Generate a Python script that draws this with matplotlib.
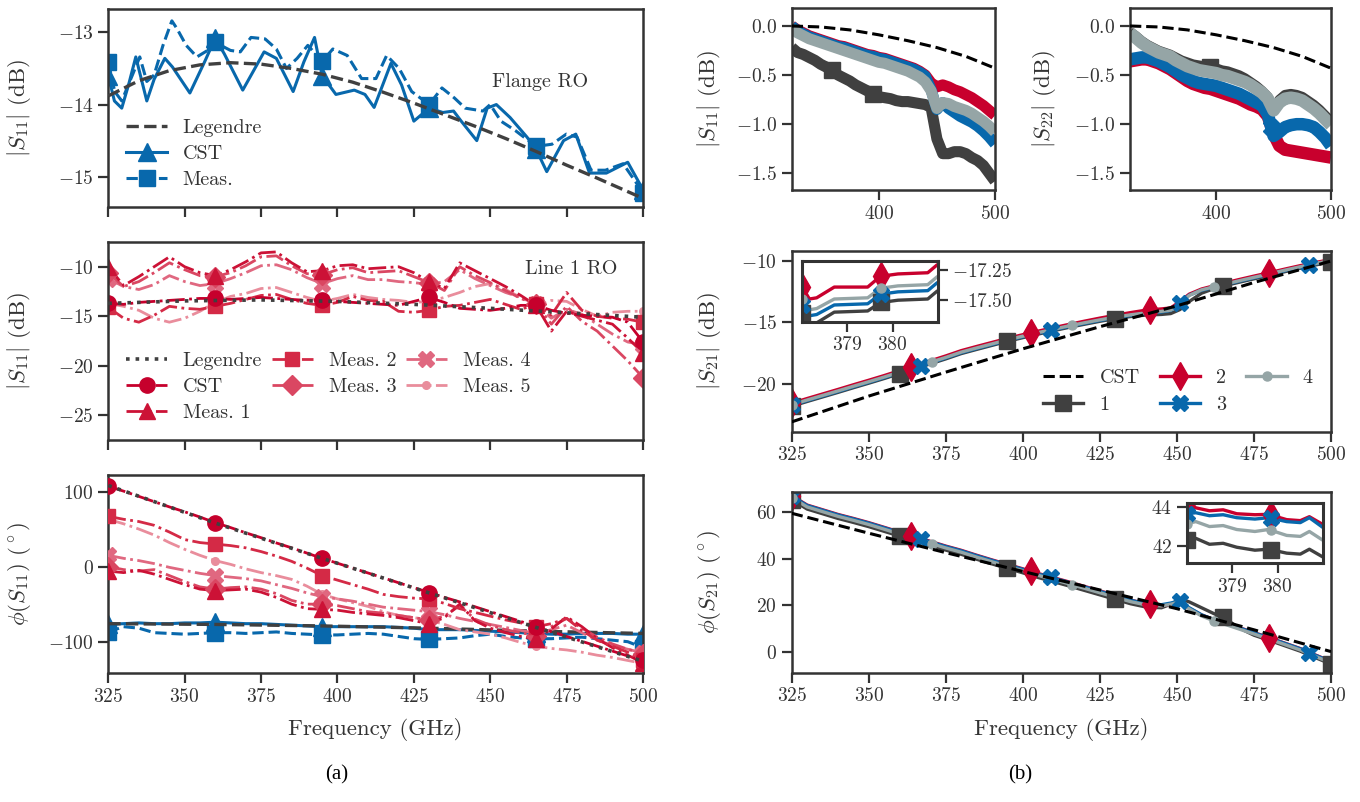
import numpy as np
import matplotlib
matplotlib.use("Agg")
import matplotlib.pyplot as plt
from matplotlib.lines import Line2D

# ---------------- data ----------------
# (a) top: flange read-out, |S11| in dB
flange_cst_f = [325.0, 327.0, 329.4, 331.8, 334.0, 337.6, 340.0, 343.5, 346.0, 351.7, 356.5, 360.0,
                363.0, 369.0, 376.0, 380.0, 385.5, 389.0, 392.5, 395.0, 399.5, 405.5, 409.0, 412.0,
                417.5, 421.0, 425.0, 430.0, 434.5, 438.0, 440.5, 445.6, 449.0, 452.0, 456.5, 462.0,
                465.0, 468.5, 474.0, 478.0, 482.5, 488.0, 495.0, 500.0]
flange_cst_db = [-13.60, -13.95, -14.05, -13.70, -13.34, -13.95, -13.65, -13.36, -13.48, -13.84, -13.41, -13.08,
                 -13.30, -13.80, -13.27, -13.36, -13.82, -13.41, -13.07, -13.60, -13.86, -13.80, -13.86, -14.04,
                 -13.43, -13.73, -14.23, -14.05, -14.11, -14.09, -14.23, -14.50, -14.05, -14.00, -14.18, -14.45,
                 -14.62, -14.93, -14.50, -14.41, -14.95, -14.95, -14.80, -15.18]
flange_meas_f = [325.0, 327.1, 329.4, 332.9, 335.3, 337.6, 340.0, 342.9, 345.8, 347.5, 350.5, 354.0,
                 357.5, 360.0, 365.0, 368.2, 371.7, 376.3, 380.0, 383.3, 386.8, 390.3, 395.0, 398.5,
                 403.2, 407.9, 412.6, 416.1, 420.2, 424.3, 430.0, 434.2, 438.3, 441.8, 447.6, 450.0,
                 453.5, 458.2, 465.0, 470.2, 474.9, 478.4, 483.0, 487.7, 493.5, 500.0]
flange_meas_db = [-13.41, -13.82, -13.95, -13.59, -13.34, -13.68, -13.59, -13.18, -12.84, -12.95, -13.18, -13.34,
                  -13.25, -13.14, -13.25, -13.27, -13.07, -13.09, -13.23, -13.50, -13.36, -13.18, -13.40, -13.23,
                  -13.32, -13.64, -13.64, -13.32, -13.50, -13.82, -14.00, -13.77, -13.91, -14.05, -14.09, -14.00,
                  -14.23, -14.36, -14.58, -14.55, -14.41, -14.45, -14.91, -14.91, -14.82, -15.22]
flange_leg_f = [325, 335, 345, 355, 365, 375, 385, 395, 405, 415, 425, 435, 445, 455, 465, 475, 485, 500]
flange_leg_db = [-13.88, -13.67, -13.53, -13.45, -13.42, -13.44, -13.50, -13.58, -13.69, -13.83,
                 -13.98, -14.14, -14.30, -14.47, -14.65, -14.84, -15.02, -15.30]

# (a) middle: line 1 read-out, |S11| in dB on a 5 GHz grid
freq5 = np.arange(325, 501, 5)
line_leg_f = [325, 350, 375, 400, 425, 450, 475, 500]
line_leg_db = [-13.7, -13.45, -13.35, -13.5, -13.8, -14.2, -14.65, -15.1]
line_cst_db = [-13.7, -13.8, -13.6, -13.5, -13.4, -13.3, -13.2, -13.2, -13.3, -13.2,
               -13.1, -13.2, -13.3, -13.4, -13.4, -13.5, -13.6, -13.7, -13.8, -13.9,
               -13.5, -13.1, -13.6, -14.2, -14.3, -14.4, -14.2, -13.9, -13.9, -14.4,
               -14.7, -14.9, -15.0, -15.1, -15.6, -17.6]
line_m1_db = [-10.0, -11.9, -11.0, -10.0, -9.0, -10.0, -10.6, -10.9, -10.3, -9.5,
              -8.6, -8.5, -9.6, -10.5, -10.4, -9.9, -9.8, -10.2, -10.1, -10.0,
              -10.6, -11.5, -12.2, -9.6, -10.4, -11.2, -12.0, -12.9, -13.9, -16.5,
              -14.5, -15.0, -15.4, -15.8, -17.2, -18.7]
line_m2_db = [-14.1, -15.2, -15.6, -14.9, -14.0, -14.2, -14.3, -14.0, -13.7, -13.3,
              -12.9, -12.8, -13.3, -13.7, -13.9, -13.6, -13.0, -13.4, -13.5, -14.5,
              -14.6, -14.4, -14.0, -13.9, -13.6, -13.3, -13.8, -14.3, -13.8, -14.9,
              -12.6, -14.4, -15.0, -15.2, -15.3, -15.6]
line_m3_db = [-10.6, -12.0, -11.5, -10.6, -9.6, -10.3, -10.9, -11.0, -10.6, -9.9,
              -9.0, -8.9, -9.9, -10.7, -10.8, -10.3, -10.1, -10.6, -10.5, -10.4,
              -11.0, -11.6, -12.4, -10.0, -10.9, -11.6, -12.4, -13.2, -13.8, -15.8,
              -14.0, -15.5, -16.5, -18.0, -19.5, -21.2]
line_m4_db = [-11.2, -12.0, -12.3, -11.8, -10.9, -11.5, -11.9, -11.7, -11.2, -10.6,
              -9.9, -9.8, -10.3, -11.1, -11.7, -11.2, -10.9, -11.3, -11.3, -11.5,
              -11.6, -11.8, -11.5, -10.3, -11.2, -11.9, -12.6, -13.1, -13.8, -15.2,
              -14.3, -14.8, -15.8, -16.8, -17.6, -17.9]
line_m5_db = [-13.7, -14.0, -14.4, -15.2, -15.6, -15.2, -14.5, -13.6, -13.0, -12.7,
              -12.2, -12.1, -12.6, -13.1, -13.5, -13.2, -12.8, -13.1, -13.3, -13.4,
              -13.6, -13.5, -13.1, -12.6, -12.0, -11.7, -12.3, -13.1, -13.9, -13.4,
              -13.5, -14.3, -15.0, -14.6, -14.5, -14.5]

# (a) bottom: phase of S11 in degrees, 5 GHz grid
line_leg_ph_f = [325, 360, 395, 430, 465, 500]
line_leg_ph = [108, 58, 11, -35, -81, -126]
line_cst_ph = [107, 100.5, 93.5, 86.5, 79.5, 73, 66, 58.5, 52, 45,
               38.5, 31.5, 25, 18, 11, 4.5, -2, -8.5, -15, -21.5,
               -28, -34.5, -41, -47, -53.5, -60, -66.5, -73, -80, -86.5,
               -93, -99.5, -106, -112.5, -119, -125]
line_m1_ph = [-6, -8, -5, -10, -17, -24, -30, -32, -31, -30,
              -34, -41, -50, -56, -57, -58, -61, -63, -65, -68,
              -72, -76, -68, -50, -72, -82, -88, -93, -97, -83,
              -67, -80, -96, -108, -118, -128]
line_m2_ph = [67, 63, 60, 55, 46, 36, 32, 30, 28, 25,
              20, 14, 7, -2, -12, -18, -24, -30, -37, -40,
              -42, -43, -49, -56, -61, -66, -71, -75, -80, -76,
              -69, -85, -98, -106, -114, -124]
line_m3_ph = [0, -4, -6, -4, -12, -20, -27, -30, -28, -27,
              -30, -36, -45, -50, -50, -52, -56, -60, -62, -65,
              -68, -71, -66, -52, -70, -78, -84, -88, -92, -80,
              -69, -82, -94, -103, -110, -116]
line_m4_ph = [15, 11, 8, 4, -1, -5, -9, -12, -14, -16,
              -19, -24, -29, -35, -40, -43, -46, -50, -54, -56,
              -58, -60, -64, -69, -73, -77, -81, -85, -89, -84,
              -78, -88, -98, -105, -110, -115]
line_m5_ph = [63, 57, 50, 42, 32, 23, 15, 8, 3, -3,
              -8, -12, -17, -26, -37, -43, -48, -53, -60, -65,
              -68, -71, -77, -84, -87, -90, -95, -101, -106, -109,
              -111, -114, -118, -121, -125, -129]
flange_leg_ph = [-76, -77, -79, -82, -86, -89]
flange_cst_ph = [-77, -76, -75, -76, -76, -75, -75, -74, -75, -76,
                 -76, -77, -78, -79, -80, -80, -80, -80, -80, -81,
                 -82, -84, -84, -84, -85, -86, -87, -88, -89, -90,
                 -90, -89, -89, -89, -90, -90]
flange_meas_ph = [-87, -80, -82, -88, -89, -90, -89, -88, -88, -89,
                  -88, -87, -89, -90, -91, -91, -90, -89, -90, -93,
                  -96, -97, -96, -95, -92, -90, -93, -95, -96, -96,
                  -95, -94, -96, -98, -100, -108]

# (b) top: |S11| and |S22| of the four lines, 5 GHz grid
freq25 = [325, 350, 375, 400, 425, 450, 475, 500]
cst_sii_db = [0.0, -0.01, -0.04, -0.09, -0.15, -0.22, -0.31, -0.43]
s11_l1 = [-0.22, -0.27, -0.29, -0.32, -0.35, -0.39, -0.42, -0.45, -0.50, -0.53,
          -0.56, -0.60, -0.63, -0.66, -0.69, -0.72, -0.73, -0.74, -0.76, -0.77,
          -0.77, -0.78, -0.79, -0.80, -0.83, -1.15, -1.30, -1.30, -1.28, -1.28,
          -1.30, -1.34, -1.37, -1.42, -1.50, -1.58]
s11_l2 = [0.0, -0.04, -0.07, -0.10, -0.12, -0.14, -0.16, -0.18, -0.20, -0.21,
          -0.23, -0.25, -0.27, -0.29, -0.30, -0.32, -0.33, -0.35, -0.37, -0.39,
          -0.41, -0.43, -0.46, -0.50, -0.58, -0.62, -0.60, -0.62, -0.65, -0.67,
          -0.70, -0.73, -0.77, -0.81, -0.86, -0.91]
s11_l3 = [0.0, -0.05, -0.08, -0.11, -0.13, -0.15, -0.17, -0.19, -0.21, -0.22,
          -0.24, -0.26, -0.28, -0.30, -0.31, -0.33, -0.34, -0.36, -0.38, -0.40,
          -0.42, -0.44, -0.47, -0.51, -0.65, -0.85, -0.78, -0.84, -0.88, -0.92,
          -0.95, -0.98, -1.02, -1.07, -1.13, -1.20]
s11_l4 = [-0.03, -0.07, -0.10, -0.13, -0.15, -0.17, -0.19, -0.21, -0.23, -0.25,
          -0.27, -0.29, -0.31, -0.33, -0.35, -0.37, -0.38, -0.40, -0.42, -0.44,
          -0.46, -0.49, -0.52, -0.57, -0.66, -0.84, -0.78, -0.79, -0.82, -0.84,
          -0.86, -0.89, -0.93, -0.97, -1.02, -1.08]
s22_l1 = [-0.06, -0.10, -0.15, -0.19, -0.22, -0.25, -0.27, -0.29, -0.32, -0.35,
          -0.37, -0.39, -0.40, -0.41, -0.42, -0.43, -0.45, -0.46, -0.48, -0.50,
          -0.53, -0.57, -0.61, -0.66, -0.72, -0.84, -0.75, -0.70, -0.69, -0.70,
          -0.72, -0.76, -0.80, -0.85, -0.91, -0.97]
s22_l2 = [-0.36, -0.35, -0.34, -0.34, -0.36, -0.38, -0.41, -0.44, -0.48, -0.52,
          -0.56, -0.59, -0.61, -0.63, -0.64, -0.66, -0.68, -0.70, -0.72, -0.74,
          -0.77, -0.80, -0.82, -0.85, -0.92, -1.10, -1.22, -1.26, -1.27, -1.28,
          -1.29, -1.30, -1.31, -1.32, -1.33, -1.34]
s22_l3 = [-0.34, -0.33, -0.32, -0.32, -0.34, -0.36, -0.39, -0.42, -0.46, -0.50,
          -0.53, -0.56, -0.58, -0.59, -0.60, -0.61, -0.63, -0.65, -0.67, -0.69,
          -0.72, -0.75, -0.78, -0.81, -0.90, -1.12, -1.08, -1.03, -1.01, -1.00,
          -1.00, -1.01, -1.03, -1.08, -1.14, -1.22]
s22_l4 = [-0.07, -0.12, -0.17, -0.21, -0.24, -0.27, -0.29, -0.31, -0.35, -0.38,
          -0.41, -0.43, -0.45, -0.46, -0.47, -0.48, -0.50, -0.51, -0.53, -0.55,
          -0.57, -0.60, -0.64, -0.68, -0.74, -0.86, -0.78, -0.74, -0.73, -0.74,
          -0.76, -0.80, -0.84, -0.89, -0.95, -1.01]

# (b) middle/bottom: |S21| (dB) and phase of S21 (deg)
freq21 = [325, 330, 335, 340, 345, 350, 355, 360, 365, 370, 375, 380, 385, 390, 395,
          400, 405, 410, 415, 420, 425, 430, 435, 440, 445, 448, 451, 454, 458, 462,
          465, 470, 475, 480, 485, 490, 495, 500]
cst_s21_db = [-23.1, -21.0, -19.05, -17.15, -15.35, -13.65, -11.75, -10.0]
s21_l1 = [-21.82, -21.44, -21.07, -20.70, -20.32, -19.95, -19.57, -19.17, -18.77, -18.37,
          -17.97, -17.54, -17.20, -16.87, -16.54, -16.24, -15.95, -15.67, -15.40, -15.15,
          -14.91, -14.69, -14.52, -14.40, -14.35, -14.28, -13.95, -13.30, -12.62, -12.25,
          -12.04, -11.74, -11.45, -11.17, -10.87, -10.59, -10.32, -10.07]
s21_l2 = [-21.58, -21.20, -20.83, -20.46, -20.08, -19.71, -19.33, -18.93, -18.53, -18.13,
          -17.73, -17.30, -16.96, -16.63, -16.30, -16.00, -15.71, -15.43, -15.16, -14.90,
          -14.65, -14.42, -14.20, -14.00, -13.90, -13.82, -13.30, -12.70, -12.28, -12.02,
          -11.82, -11.52, -11.23, -10.95, -10.66, -10.38, -10.12, -9.88]
s21_l3 = [-21.75, -21.37, -21.00, -20.63, -20.25, -19.88, -19.50, -19.10, -18.70, -18.30,
          -17.90, -17.47, -17.13, -16.80, -16.47, -16.17, -15.88, -15.60, -15.33, -15.08,
          -14.84, -14.62, -14.43, -14.27, -14.15, -14.03, -13.42, -12.78, -12.38, -12.14,
          -11.96, -11.66, -11.37, -11.09, -10.79, -10.51, -10.24, -9.99]
s21_l4 = [-21.70, -21.32, -20.95, -20.58, -20.20, -19.83, -19.45, -19.05, -18.65, -18.25,
          -17.85, -17.42, -17.08, -16.75, -16.42, -16.12, -15.83, -15.55, -15.28, -15.03,
          -14.79, -14.57, -14.38, -14.22, -14.10, -14.00, -13.45, -12.80, -12.35, -12.10,
          -11.92, -11.62, -11.33, -11.05, -10.75, -10.47, -10.20, -9.95]
cst_s21_ph = [59.3, 50.8, 42.5, 34.5, 26.6, 18.6, 9.6, 0.3]
ph21_l1 = [65.1, 61.1, 59.1, 57.1, 55.4, 53.6, 51.6, 49.6, 47.6, 45.6,
           43.6, 41.8, 39.7, 37.7, 35.8, 33.9, 31.9, 30.1, 28.3, 26.4,
           24.5, 22.6, 20.7, 19.3, 19.0, 20.5, 22.8, 21.5, 19.0, 16.5,
           15.0, 10.5, 7.3, 5.1, 2.8, 0.5, -2.3, -5.0]
ph21_l2 = [66.8, 62.8, 60.8, 58.8, 57.1, 55.3, 53.3, 51.3, 49.3, 47.3,
           45.3, 43.5, 41.4, 39.4, 37.5, 35.6, 33.6, 31.8, 30.0, 28.1,
           26.2, 24.3, 22.3, 20.6, 19.9, 20.6, 21.6, 18.8, 15.9, 13.9,
           12.8, 10.6, 8.4, 6.2, 3.9, 1.6, -1.2, -3.9]
ph21_l3 = [66.6, 62.6, 60.6, 58.6, 56.9, 55.1, 53.1, 51.1, 49.1, 47.1,
           45.1, 43.3, 41.2, 39.2, 37.3, 35.4, 33.4, 31.6, 29.8, 27.9,
           26.0, 24.1, 22.2, 20.7, 20.3, 21.0, 22.0, 19.0, 16.0, 13.9,
           12.7, 10.5, 8.3, 6.1, 3.8, 1.5, -1.3, -4.0]
ph21_l4 = [66.0, 62.0, 60.0, 58.0, 56.3, 54.5, 52.5, 50.5, 48.5, 46.5,
           44.5, 42.7, 40.6, 38.6, 36.7, 34.8, 32.8, 31.0, 29.2, 27.3,
           25.4, 23.5, 21.6, 20.2, 19.8, 20.5, 21.5, 18.5, 15.5, 13.4,
           12.2, 10.0, 7.8, 5.6, 3.3, 1.0, -1.8, -4.5]

# zoomed details around 379-380 GHz
zoom_f = [378.0, 378.16, 378.32, 378.71, 379.45, 379.73, 380.12, 380.78, 381.0]
zoom_s21_l1 = [-17.61, -17.70, -17.69, -17.60, -17.59, -17.52, -17.50, -17.49, -17.42]
zoom_s21_l2 = [-17.39, -17.49, -17.48, -17.39, -17.39, -17.30, -17.28, -17.27, -17.20]
zoom_s21_l3 = [-17.54, -17.63, -17.62, -17.54, -17.53, -17.45, -17.43, -17.42, -17.35]
zoom_s21_l4 = [-17.49, -17.58, -17.57, -17.49, -17.48, -17.40, -17.38, -17.37, -17.30]
zoom_ph_f = [378.0, 378.2, 378.5, 378.8, 379.1, 379.5, 379.8, 380.2, 380.5, 380.7, 381.0]
zoom_ph_l1 = [42.30, 42.40, 42.10, 42.15, 41.95, 41.80, 41.85, 41.65, 41.60, 41.85, 41.45]
zoom_ph_l2 = [44.05, 43.95, 43.80, 43.85, 43.65, 43.60, 43.62, 43.35, 43.30, 43.50, 43.10]
zoom_ph_l3 = [43.65, 43.70, 43.55, 43.60, 43.45, 43.38, 43.45, 43.25, 43.20, 43.45, 42.95]
zoom_ph_l4 = [43.15, 43.25, 43.00, 43.05, 42.85, 42.75, 42.85, 42.55, 42.50, 42.75, 42.30]

# ---------------- style ----------------
INK = "#333333"
plt.rcParams.update({
    "font.family": "cmr10",
    "mathtext.fontset": "cm",
    "axes.formatter.use_mathtext": True,
    "axes.unicode_minus": True,
    "axes.edgecolor": INK,
    "axes.linewidth": 1.8,
    "xtick.color": INK, "ytick.color": INK,
    "xtick.major.size": 7, "ytick.major.size": 7,
    "xtick.major.width": 1.6, "ytick.major.width": 1.6,
    "xtick.labelsize": 14, "ytick.labelsize": 14,
    "axes.labelsize": 16.5, "axes.labelcolor": INK,
    "text.color": INK,
    "legend.fontsize": 14.5, "legend.frameon": False,
})

BLUE = "#0868ac"
DARK = "#404040"
GREY = "#95a5a6"
RED = "#c8002d"
REDS = ["#c6002c", "#cc1236", "#d42a46", "#da4762", "#e06880", "#e98d9c"]

FIG_W, FIG_H = 1360, 802
fig = plt.figure(figsize=(13.6, 8.02), dpi=100)


def box(x0, y0, x1, y1):
    """Axes rectangle from pixel corners (top-left origin)."""
    return [x0 / FIG_W, 1 - y1 / FIG_H, (x1 - x0) / FIG_W, (y1 - y0) / FIG_H]


def trace(ax, f, v, color, ls="-", lw=2.2, marker=None, ms=10, marks=None, z=2):
    ax.plot(f, v, color=color, ls=ls, lw=lw, zorder=z,
            solid_capstyle="butt", dash_capstyle="butt")
    if marker is not None and marks is not None:
        mf = np.asarray(marks, dtype=float)
        ax.plot(mf, np.interp(mf, f, v), ls="none", marker=marker, ms=ms,
                color=color, mec=color, zorder=z + 0.1)


def proxy(color, ls="-", lw=2.2, marker=None, ms=10):
    return Line2D([], [], color=color, ls=ls, lw=lw, marker=marker, ms=ms)


every35 = [325, 360, 395, 430, 465, 500]
freq_ticks = [325, 350, 375, 400, 425, 450, 475, 500]

# ---------------- (a) top ----------------
axA = fig.add_axes(box(108.3, 9.3, 643, 207))
trace(axA, flange_cst_f, flange_cst_db, BLUE, "-", 2.2, "^", 13, every35)
trace(axA, flange_meas_f, flange_meas_db, BLUE, "--", 2.2, "s", 11, every35)
trace(axA, flange_leg_f, flange_leg_db, DARK, "--", 2.4, z=3)
axA.set_ylim(-15.42, -12.68)
axA.set_yticks([-15, -14, -13])
axA.text(0.718, 0.632, "Flange RO", transform=axA.transAxes, fontsize=14.5, va="center")
axA.legend([proxy(DARK, "--", 2.4), proxy(BLUE, "-", 2.2, "^", 13), proxy(BLUE, "--", 2.2, "s", 11)],
           ["Legendre", "CST", "Meas."], loc="lower left", labelspacing=0.4)
axA.set_ylabel(r"$|S_{11}|$ (dB)")

# ---------------- (a) middle ----------------
axB = fig.add_axes(box(108.3, 241.7, 643, 440))
line_series = [
    (line_m5_db, REDS[5], ".", 11),
    (line_m4_db, REDS[4], "X", 11),
    (line_m3_db, REDS[3], "D", 10),
    (line_m2_db, REDS[2], "s", 10),
    (line_m1_db, REDS[1], "^", 11),
    (line_cst_db, REDS[0], "o", 11),
]
for vals, col, mk, ms in line_series:
    trace(axB, freq5, vals, col, "-.", 2.0, mk, ms, every35)
trace(axB, line_leg_f, line_leg_db, DARK, ":", 2.6, z=4)
axB.set_ylim(-27.5, -7.47)
axB.set_yticks([-25, -20, -15, -10])
axB.text(0.78, 0.862, "Line 1 RO", transform=axB.transAxes, fontsize=14.5, va="center")
axB.legend([proxy(DARK, ":", 2.6), proxy(REDS[0], "-.", 2.0, "o", 11), proxy(REDS[1], "-.", 2.0, "^", 11),
            proxy(REDS[2], "-.", 2.0, "s", 10), proxy(REDS[3], "-.", 2.0, "D", 10),
            proxy(REDS[4], "-.", 2.0, "X", 11), proxy(REDS[5], "-.", 2.0, ".", 11)],
           ["Legendre", "CST", "Meas. 1", "Meas. 2", "Meas. 3", "Meas. 4", "Meas. 5"],
           loc="lower left", ncol=3, columnspacing=0.5, labelspacing=0.4)
axB.set_ylabel(r"$|S_{11}|$ (dB)")

# ---------------- (a) bottom ----------------
axC = fig.add_axes(box(108.3, 475, 643, 673))
trace(axC, freq5, flange_cst_ph, BLUE, "-", 2.2, "^", 13, every35)
trace(axC, freq5, flange_meas_ph, BLUE, "--", 2.2, "s", 11, every35)
trace(axC, line_leg_ph_f, flange_leg_ph, DARK, "--", 2.4, z=2.5)
ph_series = [
    (line_m5_ph, REDS[5], ".", 11),
    (line_m4_ph, REDS[4], "X", 11),
    (line_m3_ph, REDS[3], "D", 10),
    (line_m1_ph, REDS[1], "^", 11),
    (line_m2_ph, REDS[2], "s", 10),
    (line_cst_ph, REDS[0], "o", 11),
]
for vals, col, mk, ms in ph_series:
    trace(axC, freq5, vals, col, "-.", 2.0, mk, ms, every35, z=3)
trace(axC, line_leg_ph_f, line_leg_ph, DARK, ":", 2.6, z=4)
axC.set_ylim(-141.7, 122)
axC.set_yticks([-100, 0, 100])
axC.set_ylabel(r"$\phi(S_{11})$ $(^\circ)$")
axC.set_xlabel("Frequency (GHz)", labelpad=9)

for ax in (axA, axB, axC):
    ax.set_xlim(325, 500)
    ax.set_xticks(freq_ticks)
    ax.yaxis.set_label_coords(-0.14, 0.5)
for ax in (axA, axB):
    ax.tick_params(labelbottom=False)

# ---------------- (b) top: |S11| and |S22| ----------------
line_cols = [DARK, RED, BLUE, GREY]
axS11 = fig.add_axes(box(791.7, 8.3, 995, 190))
for vals, col in zip([s11_l1, s11_l2, s11_l3, s11_l4], line_cols):
    trace(axS11, freq5, vals, col, "-", 8)
trace(axS11, freq5, s11_l1, DARK, "-", 0.01, "s", 11, [360, 395], z=2)
trace(axS11, freq25, cst_sii_db, "black", "--", 2.2, z=5)
axS11.set_ylabel(r"$|S_{11}|$ (dB)")
axS11.yaxis.set_label_coords(-0.34, 0.5)

axS22 = fig.add_axes(box(1130, 8.3, 1331, 190))
s22_widths = [7, 9, 9, 9]
for vals, col, w in zip([s22_l1, s22_l2, s22_l3, s22_l4], line_cols, s22_widths):
    trace(axS22, freq5, vals, col, "-", w)
trace(axS22, freq5, s22_l1, DARK, "-", 0.01, "s", 11, [395], z=1.5)
trace(axS22, freq5, s22_l3, BLUE, "-", 0.01, "X", 11, [448], z=2.5)
trace(axS22, freq25, cst_sii_db, "black", "--", 2.2, z=5)
axS22.set_ylabel(r"$|S_{22}|$ (dB)")
axS22.yaxis.set_label_coords(-0.36, 0.5)

for ax in (axS11, axS22):
    ax.set_xlim(325, 500)
    ax.set_xticks([400, 500])
    ax.set_ylim(-1.67, 0.18)
    ax.set_yticks([-1.5, -1.0, -0.5, 0.0])

# ---------------- (b) middle: |S21| ----------------
marks = {
    "1": [325, 360, 395, 430, 465, 500],
    "2": [325, 363.75, 402.5, 441.25, 480],
    "3": [325, 367, 409, 451, 493],
    "4": [325, 370.5, 416, 462],
}
styles = [("1", DARK, "s", 12), ("2", RED, "d", 14), ("3", BLUE, "X", 12), ("4", GREY, ".", 13)]

axS21 = fig.add_axes(box(791.7, 250.7, 1331, 431.7))
for vals, (key, col, mk, ms) in zip([s21_l1, s21_l2, s21_l3, s21_l4], styles):
    trace(axS21, freq21, vals, col, "-", 2.4, mk, ms, marks[key])
trace(axS21, freq25, cst_s21_db, "black", "--", 2.2, z=5)
axS21.set_ylim(-23.9, -9.16)
axS21.set_yticks([-20, -15, -10])
axS21.set_ylabel(r"$|S_{21}|$ (dB)")
handles = [proxy("black", "--", 2.2)] + [proxy(c, "-", 2.4, m, s) for _, c, m, s in styles]
axS21.legend(handles, ["CST", "1", "2", "3", "4"], loc="lower right", ncol=3,
             columnspacing=1.0, labelspacing=0.4)

# ---------------- (b) bottom: phase of S21 ----------------
axP = fig.add_axes(box(791.7, 491.7, 1331, 672.7))
for vals, (key, col, mk, ms) in zip([ph21_l1, ph21_l2, ph21_l3, ph21_l4], styles):
    trace(axP, freq21, vals, col, "-", 2.4, mk, ms, marks[key])
trace(axP, freq25, cst_s21_ph, "black", "--", 2.2, z=5)
axP.set_ylim(-8.7, 68.5)
axP.set_yticks([0, 20, 40, 60])
axP.set_ylabel(r"$\phi(S_{21})$ $(^\circ)$")
axP.set_xlabel("Frequency (GHz)", labelpad=9)

for ax in (axS21, axP):
    ax.set_xlim(325, 500)
    ax.set_xticks(freq_ticks)
    ax.yaxis.set_label_coords(-0.128, 0.5)

# ---------------- insets ----------------
insA = fig.add_axes(box(802.2, 260.8, 937.7, 321.7))
for vals, (key, col, mk, ms) in zip([zoom_s21_l1, zoom_s21_l2, zoom_s21_l3, zoom_s21_l4], styles):
    trace(insA, zoom_f, vals, col, "-", 2.4, mk, ms, [378.0, 379.75])
insA.set_xlim(378, 381)
insA.set_ylim(-17.68, -17.17)
insA.set_xticks([379, 380])
insA.set_yticks([-17.5, -17.25])
insA.yaxis.tick_right()

insB = fig.add_axes(box(1186.8, 503.3, 1323, 563))
for vals, (key, col, mk, ms) in zip([zoom_ph_l1, zoom_ph_l2, zoom_ph_l3, zoom_ph_l4], styles):
    trace(insB, zoom_ph_f, vals, col, "-", 2.4, mk, ms, [378.0, 379.85])
insB.set_xlim(378, 381)
insB.set_ylim(41.15, 44.18)
insB.set_xticks([379, 380])
insB.set_yticks([42, 44])

for ax in (insA, insB):
    for s in ax.spines.values():
        s.set_linewidth(2.2)

fig.text(337 / FIG_W, 1 - 775 / FIG_H, "(a)", ha="center", va="center",
         fontsize=15, family="Liberation Serif", color="black")
fig.text(1020 / FIG_W, 1 - 775 / FIG_H, "(b)", ha="center", va="center",
         fontsize=15, family="Liberation Serif", color="black")

fig.savefig("out.png", dpi=100, facecolor="white")
